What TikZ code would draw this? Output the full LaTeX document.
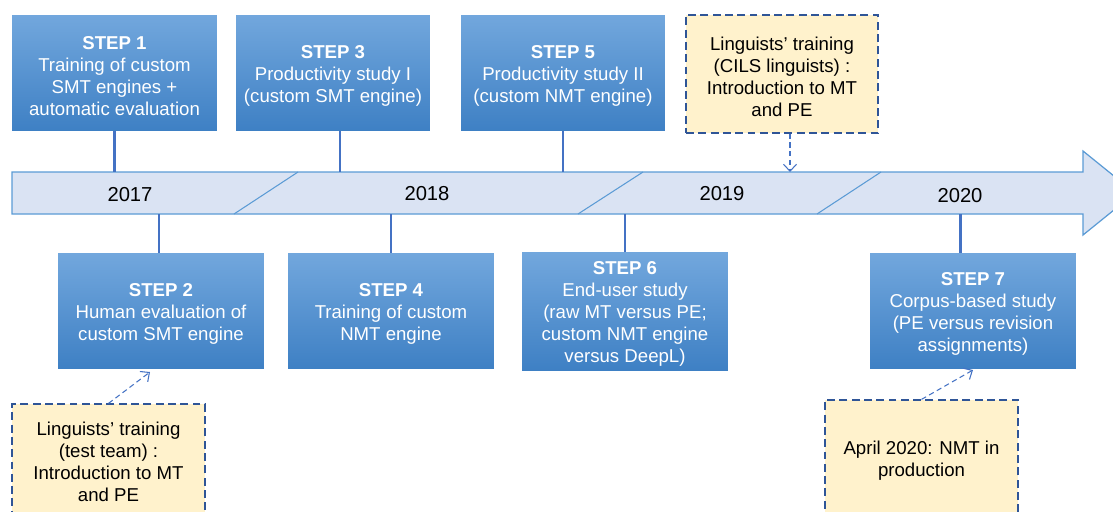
\documentclass[tikz,border=0pt]{standalone}
\usepackage{fontspec}
\setmainfont{Liberation Sans}
\usetikzlibrary{arrows.meta,positioning}
\definecolor{stepTop}{RGB}{114,167,221}
\definecolor{stepBot}{RGB}{62,128,196}
\definecolor{arrFill}{RGB}{218,227,243}
\definecolor{arrEdge}{RGB}{91,155,213}
\definecolor{tickBlue}{RGB}{68,114,196}
\definecolor{trnFill}{RGB}{255,242,204}
\definecolor{trnEdge}{RGB}{47,85,151}
% first-line strut, pushes the text block a little lower in its box
\newcommand{\tstrut}{\rule{0pt}{10.6pt}}
\newcommand{\stephd}[1]{\tstrut\textbf{STEP #1}}
\tikzset{
  stp/.style={top color=stepTop,bottom color=stepBot,text=white,
              font=\fontsize{10.6}{12.5}\selectfont,align=center,
              minimum width=4.12cm,minimum height=2.32cm,inner sep=2pt},
  trn/.style={draw=trnEdge,fill=trnFill,line width=.7pt,
              dash pattern=on 4.5pt off 2.5pt,
              font=\fontsize{10.6}{12.5}\selectfont,align=center,
              minimum width=3.86cm,inner sep=2pt},
  tick/.style={draw=tickBlue,line width=1.7pt},
  dar/.style={-{Straight Barb[length=1.4mm,width=2.6mm]},draw=tickBlue,
              line width=.6pt,dash pattern=on 3pt off 2pt},
  seg/.style={draw=arrEdge,line width=.6pt},
  yr/.style={font=\fontsize{11.5}{13}\selectfont},
}
\begin{document}
\begin{tikzpicture}[x=0.02cm,y=-0.02cm]
  \useasboundingbox (0,0) rectangle (1113,511);
  \clip (0,0) rectangle (1113,511);
  % timeline arrow
  \draw[arrEdge,fill=arrFill,line width=.7pt]
    (12,172) -- (1083,172) -- (1083,151) -- (1135,193) -- (1083,235)
    -- (1083,214) -- (12,214) -- cycle;
  \draw[seg] (234,214) -- (298,172);
  \draw[seg] (578,214) -- (643,172);
  \draw[seg] (817,214) -- (881,172);
  \coordinate (atop) at (0,172);
  \coordinate (abot) at (0,214);
  \node[yr] (y17) at (130,195) {2017};
  \node[yr] (y18) at (427,194) {2018};
  \node[yr] (y19) at (722,194) {2019};
  \node[yr] (y20) at (960,196) {2020};
  % steps above the line
  \node[stp,minimum width=4.1cm] (s1) at (114.5,73)
    {\stephd{1}\\Training of custom\\SMT engines +\\automatic evaluation};
  \node[stp,minimum width=3.88cm] (s3) at (333,73)
    {\stephd{3}\\Productivity study I\\(custom SMT engine)};
  \node[stp,minimum width=4.08cm] (s5) at (563,73)
    {\stephd{5}\\Productivity study II\\(custom NMT engine)};
  \node[trn,minimum width=3.84cm,minimum height=2.36cm] (tr1) at (782,74)
    {\tstrut Linguists’ training\\(CILS linguists) :\\Introduction to MT\\and PE};
  % steps below the line
  \node[stp] (s2) at (161,311)
    {\stephd{2}\\Human evaluation of\\custom SMT engine};
  \node[stp] (s4) at (391,311)
    {\stephd{4}\\Training of custom\\NMT engine};
  \node[stp,minimum height=2.34cm] (s6) at (625,311.5)
    {\stephd{6}\\End-user study\\(raw MT versus PE;\\custom NMT engine\\versus DeepL)};
  \node[stp] (s7) at (973,311)
    {\stephd{7}\\Corpus-based study\\(PE versus revision\\assignments)};
  \node[trn,minimum height=2.2cm] (tr2) at (108.5,459)
    {\tstrut Linguists’ training\\(test team) :\\Introduction to MT\\and PE};
  \node[trn,minimum height=2.32cm] (tr3) at (921.5,458)
    {\tstrut April 2020: NMT in\\production};
  % ticks onto the timeline
  \draw[tick] (s1.south) -- (s1.south |- atop);
  \draw[tick] ([xshift=0.14cm]s3.south) -- ([xshift=0.14cm]s3.south |- atop);
  \draw[tick] (s5.south) -- (s5.south |- atop);
  \draw[tick] ([xshift=-0.04cm]s2.north) -- ([xshift=-0.04cm]s2.north |- abot);
  \draw[tick] (s4.north) -- (s4.north |- abot);
  \draw[tick] (s6.north) -- (s6.north |- abot);
  \draw[tick] ([xshift=-0.26cm]s7.north) -- ([xshift=-0.26cm]s7.north |- abot);
  % training events
  \coordinate (e2) at (150,372);
  \coordinate (e7) at (973,370);
  \draw[dar] ([xshift=0.16cm]tr1.south) -- ([xshift=0.16cm]tr1.south |- atop);
  \draw[dar] (tr2.north) -- (e2);
  \draw[dar] (tr3.north) -- (e7);
\end{tikzpicture}
\end{document}
